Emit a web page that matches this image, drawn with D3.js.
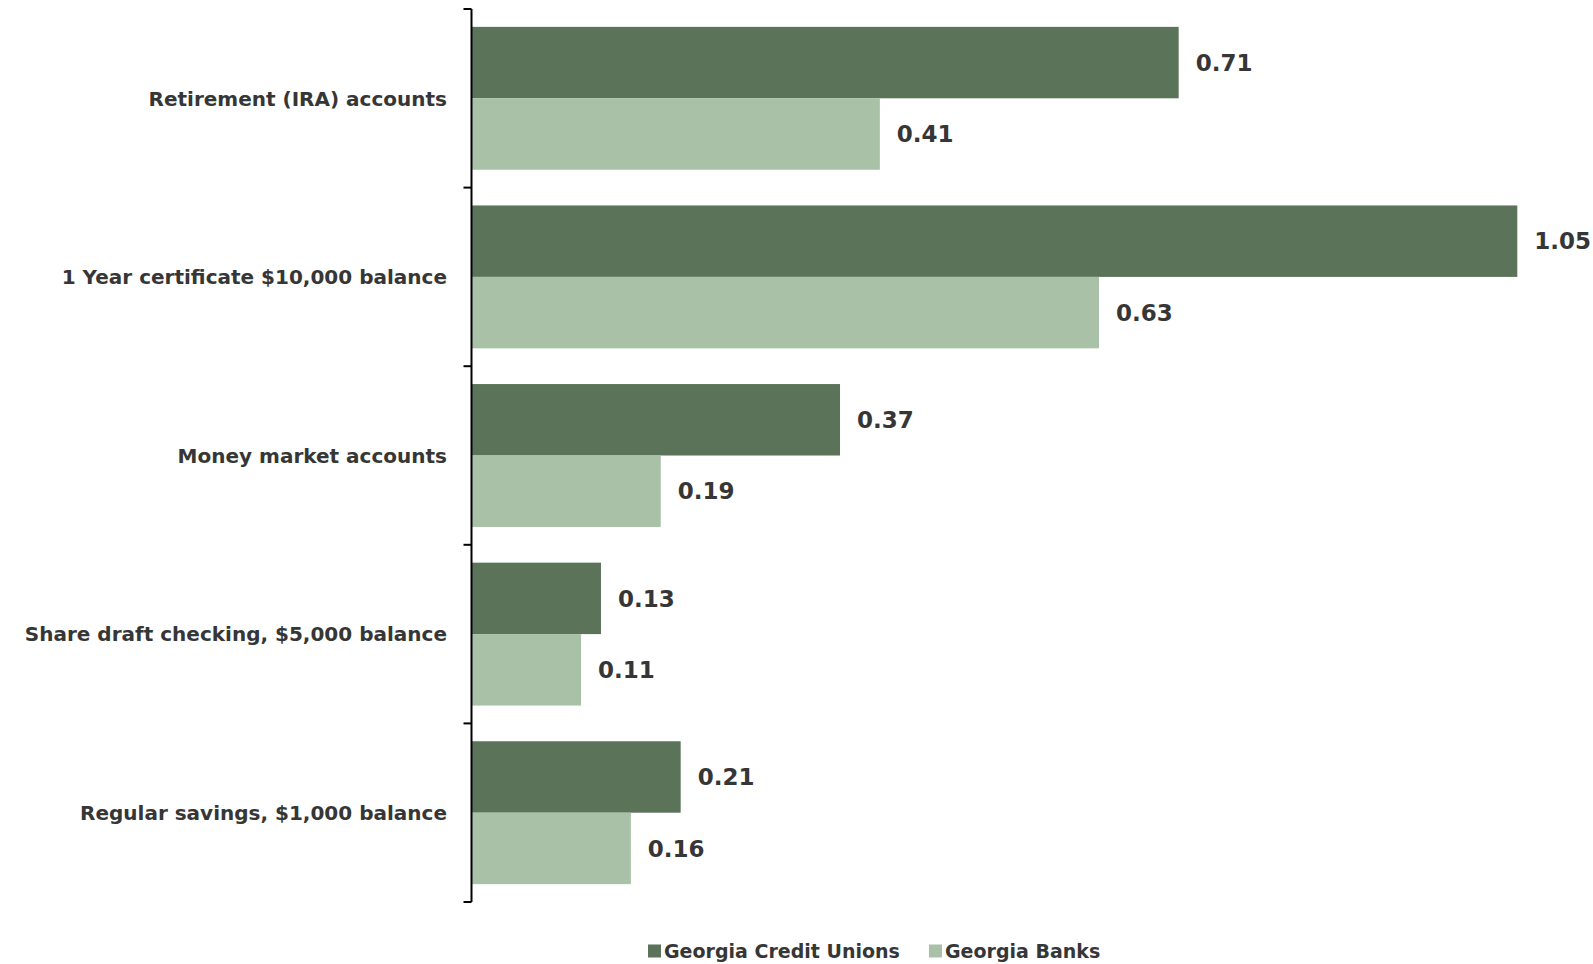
<!DOCTYPE html>
<html>
<head>
<meta charset="utf-8">
<script src="https://cdn.jsdelivr.net/npm/d3@7"></script>
<style>
  body { margin: 0; background: #fff; }
  text { font-family: "DejaVu Sans", sans-serif; font-weight: bold; fill: #363636; }
</style>
</head>
<body>
<div id="chart"></div>
<script>
var categories = ["Retirement (IRA) accounts",
                  "1 Year certificate $10,000 balance",
                  "Money market accounts",
                  "Share draft checking, $5,000 balance",
                  "Regular savings, $1,000 balance"];
var seriesNames = ["Georgia Credit Unions", "Georgia Banks"];
var creditUnions = [0.71, 1.05, 0.37, 0.13, 0.21];
var banks = [0.41, 0.63, 0.19, 0.11, 0.16];

var color = {"Georgia Credit Unions": "#5a7359", "Georgia Banks": "#a8c1a7"};

var width = 1593, height = 964;
var svg = d3.select("#chart").append("svg").attr("width", width).attr("height", height);

var rows = categories.map(function(c, i) {
    return {cat: c, values: [
        {series: seriesNames[0], value: creditUnions[i]},
        {series: seriesNames[1], value: banks[i]}
    ]};
});

var x = d3.scaleLinear().domain([0, 1.125]).range([471.5, 1592]);
var y = d3.scaleBand().domain(categories).range([9, 902]).padding(0);
var ySub = d3.scaleBand().domain(seriesNames)
    .range([y.bandwidth() * 0.1, y.bandwidth() * 0.9]).padding(0);

// bars
var groups = svg.selectAll(".grp").data(rows).enter().append("g")
    .attr("class", "grp")
    .attr("transform", d => "translate(0," + y(d.cat) + ")");

groups.selectAll("rect").data(d => d.values).enter().append("rect")
    .attr("x", x(0))
    .attr("y", d => ySub(d.series))
    .attr("width", d => x(d.value) - x(0))
    .attr("height", ySub.bandwidth())
    .attr("fill", d => color[d.series]);

groups.selectAll(".val").data(d => d.values).enter().append("text")
    .attr("class", "val")
    .attr("x", d => x(d.value) + 17)
    .attr("y", d => ySub(d.series) + ySub.bandwidth() / 2)
    .attr("dy", "0.36em")
    .style("font-size", "23px")
    .text(d => d3.format(".2f")(d.value));

// category labels
svg.selectAll(".cat").data(categories).enter().append("text")
    .attr("class", "cat")
    .attr("x", 447)
    .attr("y", d => y(d) + y.bandwidth() / 2)
    .attr("dy", "0.36em")
    .attr("text-anchor", "end")
    .style("font-size", "20px")
    .text(d => d);

// axis line with ticks at band boundaries
var bounds = categories.map(d => y(d)).concat([y.range()[1]]);
svg.append("line")
    .attr("x1", x(0)).attr("x2", x(0))
    .attr("y1", y.range()[0]).attr("y2", y.range()[1])
    .attr("stroke", "#000").attr("stroke-width", 2);
svg.selectAll(".tick").data(bounds).enter().append("line")
    .attr("x1", x(0) - 8).attr("x2", x(0))
    .attr("y1", d => d).attr("y2", d => d)
    .attr("stroke", "#000").attr("stroke-width", 2);

// legend
var legend = svg.append("g").attr("transform", "translate(0,951)");
var legX = [648, 929];
seriesNames.forEach(function(s, i) {
    legend.append("rect").attr("x", legX[i]).attr("y", -6.5)
        .attr("width", 13).attr("height", 13).attr("fill", color[s]);
    legend.append("text").attr("x", legX[i] + 16).attr("y", 0)
        .attr("dy", "0.36em").style("font-size", "19px").text(s);
});
</script>
</body>
</html>
